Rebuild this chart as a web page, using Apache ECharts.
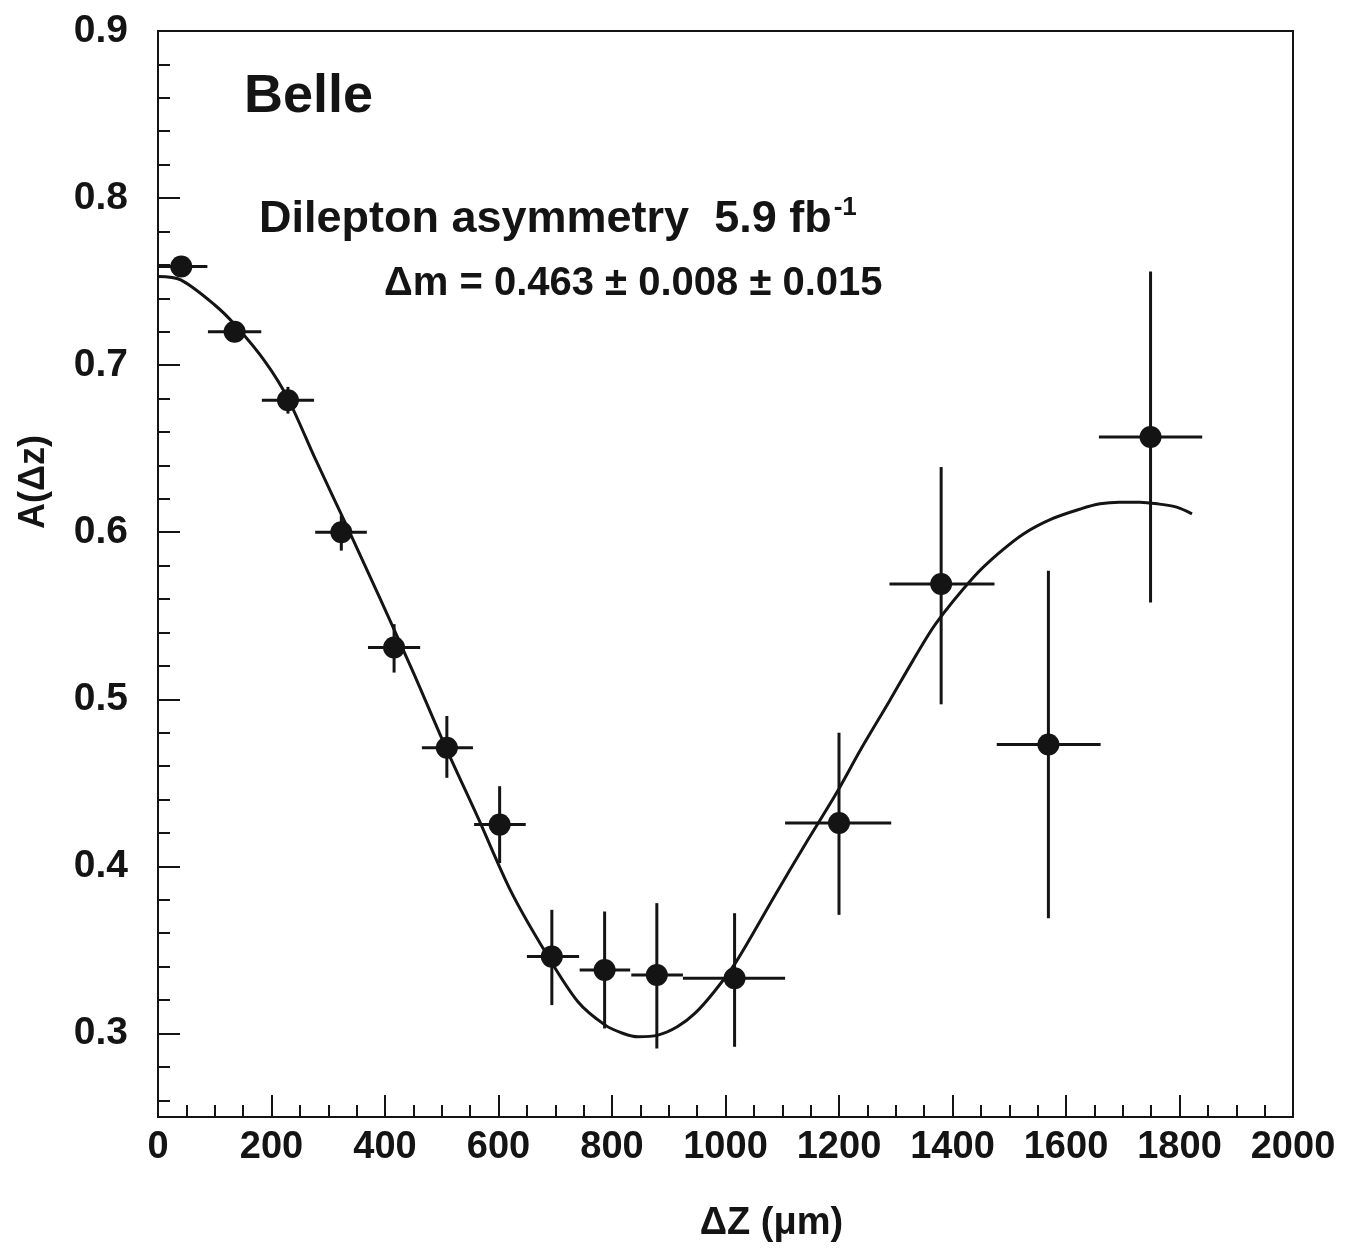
<!DOCTYPE html>
<html>
<head>
<meta charset="utf-8">
<script src="https://cdn.jsdelivr.net/npm/echarts@6/dist/echarts.min.js"></script>
<style>
html,body{margin:0;padding:0;background:#fff;}
#chart{width:1351px;height:1257px;}
</style>
</head>
<body>
<div id="chart"></div>
<script>
// Data points (bin centres, values, bin edges, errors)
const pointX = [41, 135, 229, 323, 416, 509, 602, 694, 787, 879, 1016, 1200, 1380, 1569, 1749];
const pointY = [0.759, 0.720, 0.679, 0.600, 0.531, 0.471, 0.425, 0.346, 0.338, 0.335, 0.333, 0.426, 0.569, 0.473, 0.657];
const binLow = [0, 88, 183, 277, 370, 465, 557, 650, 743, 834, 925, 1105, 1289, 1478, 1658];
const binHigh = [87, 182, 275, 368, 462, 555, 648, 742, 832, 925, 1105, 1292, 1474, 1661, 1840];
const errLow = [0.755, 0.714, 0.671, 0.589, 0.516, 0.453, 0.402, 0.317, 0.303, 0.291, 0.292, 0.371, 0.497, 0.369, 0.558];
const errHigh = [0.763, 0.726, 0.687, 0.610, 0.545, 0.490, 0.448, 0.374, 0.373, 0.378, 0.372, 0.480, 0.639, 0.577, 0.756];

// Fitted curve
const curveX = [0, 40, 100, 136, 189, 229, 277, 335, 393, 450, 506, 564, 622, 682, 740, 788, 820, 846, 881, 915, 946, 980, 1019, 1086, 1140, 1194, 1240, 1289, 1330, 1370, 1437, 1480, 1525, 1575, 1626, 1660, 1694, 1730, 1761, 1795, 1822];
const curveY = [0.753, 0.751, 0.736, 0.724, 0.702, 0.680, 0.644, 0.602, 0.559, 0.516, 0.472, 0.429, 0.385, 0.349, 0.319, 0.305, 0.300, 0.298, 0.299, 0.304, 0.312, 0.325, 0.343, 0.382, 0.413, 0.443, 0.471, 0.499, 0.523, 0.545, 0.573, 0.587, 0.599, 0.608, 0.614, 0.617, 0.618, 0.618, 0.617, 0.615, 0.611];

// Axis ticks
const xMin = 0, xMax = 2000, xStep = 200;
const yMin = 0.25, yMax = 0.9;
const yMajorTicks = [0.3, 0.4, 0.5, 0.6, 0.7, 0.8, 0.9];
const yMinorTicks = [0.26, 0.28, 0.32, 0.34, 0.36, 0.38, 0.42, 0.44, 0.46, 0.48, 0.52, 0.54, 0.56, 0.58, 0.62, 0.64, 0.66, 0.68, 0.72, 0.74, 0.76, 0.78, 0.82, 0.84, 0.86, 0.88];

const ink = '#141414';
const font = 'Liberation Sans, Arial, Helvetica, sans-serif';

const errData = pointX.map((x, i) => [x, pointY[i], binLow[i], binHigh[i], errLow[i], errHigh[i]]);
const ptData = pointX.map((x, i) => [x, pointY[i]]);
const lineData = curveX.map((x, i) => [x, curveY[i]]);

const chart = echarts.init(document.getElementById('chart'), null, {renderer: 'canvas'});
chart.setOption({
  backgroundColor: '#fff',
  animation: false,
  grid: {left: 158, top: 31, right: 58, bottom: 140, show: true, borderColor: ink, borderWidth: 2, backgroundColor: 'transparent'},
  xAxis: {
    type: 'value', min: xMin, max: xMax, interval: xStep,
    name: 'ΔZ (μm)', nameLocation: 'middle', nameGap: 88,
    nameTextStyle: {color: ink, fontSize: 38, fontWeight: 'bold', fontFamily: font, padding: [0, 0, 0, 92]},
    axisLine: {show: true, lineStyle: {color: ink, width: 2}},
    axisTick: {show: true, inside: true, length: 22, lineStyle: {color: ink, width: 2}},
    minorTick: {show: true, splitNumber: 4, length: 12, lineStyle: {color: ink, width: 2}},
    axisLabel: {color: ink, fontSize: 38, fontWeight: 'bold', fontFamily: font, margin: 12, formatter: v => String(v)},
    splitLine: {show: false}, minorSplitLine: {show: false}
  },
  yAxis: [{
    type: 'value', min: yMin, max: yMax,
    name: 'A(Δz)', nameLocation: 'middle', nameGap: 106, nameRotate: 90,
    nameTextStyle: {color: ink, fontSize: 36, fontWeight: 'bold', fontFamily: font, padding: [0, 0, 0, 184]},
    axisLine: {show: true, lineStyle: {color: ink, width: 2}},
    axisTick: {show: true, inside: true, length: 22, customValues: yMajorTicks, lineStyle: {color: ink, width: 2}},
    axisLabel: {color: ink, fontSize: 39, fontWeight: 'bold', fontFamily: font, margin: 30,
      customValues: yMajorTicks, formatter: v => v.toFixed(1)},
    splitLine: {show: false}
  }, {
    type: 'value', min: yMin, max: yMax, position: 'left',
    axisLine: {show: false},
    axisTick: {show: true, inside: true, length: 12, customValues: yMinorTicks, lineStyle: {color: ink, width: 2}},
    axisLabel: {show: false},
    splitLine: {show: false}
  }],
  graphic: [
    {type: 'text', left: 244, top: 70, style: {text: 'Belle', fill: ink, font: 'bold 54px ' + font}},
    {type: 'text', left: 384, top: 264, style: {text: 'Δm = 0.463 ± 0.008 ± 0.015', fill: ink, font: 'bold 40px ' + font}}
  ],
  title: {
    left: 254, top: 190,
    text: '{t|Dilepton asymmetry  5.9 fb}{s|-1}',
    textStyle: {rich: {
      t: {fontSize: 45, fontWeight: 'bold', fontFamily: font, color: ink},
      s: {fontSize: 26, fontWeight: 'bold', fontFamily: font, color: ink, verticalAlign: 'top', padding: [0, 0, 24, 2]}
    }}
  },
  series: [
    {
      type: 'line', data: lineData, smooth: 0.3, showSymbol: false, symbol: 'none',
      lineStyle: {color: ink, width: 3}, z: 2
    },
    {
      type: 'custom', data: errData, z: 3,
      renderItem: function (params, api) {
        const y = api.value(1);
        const h1 = api.coord([api.value(2), y]);
        const h2 = api.coord([api.value(3), y]);
        const v1 = api.coord([api.value(0), api.value(4)]);
        const v2 = api.coord([api.value(0), api.value(5)]);
        const st = {stroke: ink, lineWidth: 3};
        return {type: 'group', children: [
          {type: 'line', shape: {x1: h1[0], y1: h1[1], x2: h2[0], y2: h2[1]}, style: st},
          {type: 'line', shape: {x1: v1[0], y1: v1[1], x2: v2[0], y2: v2[1]}, style: st}
        ]};
      }
    },
    {
      type: 'scatter', data: ptData, symbol: 'circle', symbolSize: 22,
      itemStyle: {color: ink, opacity: 1}, z: 4
    }
  ]
});
</script>
</body>
</html>
